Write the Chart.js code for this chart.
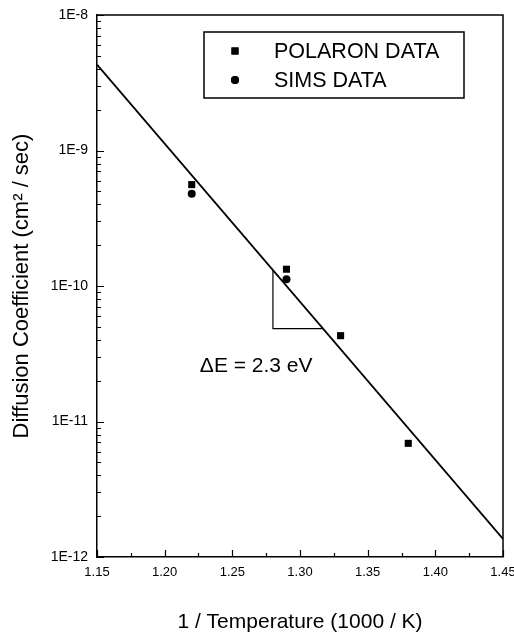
<!DOCTYPE html>
<html><head><meta charset="utf-8">
<script src="https://cdn.jsdelivr.net/npm/chart.js@4/dist/chart.umd.min.js"></script>
<style>html,body{margin:0;padding:0;background:#fff}</style>
</head><body>
<canvas id="c" width="514" height="639" style="display:block;width:514px;height:639px"></canvas>
<script>
// ---- data ----
const seriesNames = ['POLARON DATA', 'SIMS DATA'];
const polaronX = [1.22, 1.29, 1.33, 1.38];
const polaronY = [5.6e-10, 1.33e-10, 4.3e-11, 6.9e-12];
const simsX = [1.22, 1.29];
const simsY = [4.8e-10, 1.12e-10];
const fitX = [1.15, 1.45];
const fitY = [4.3e-9, 1.36e-12];
const slopeX = [1.28, 1.28, 1.317];
const slopeY = [1.31e-10, 4.85e-11, 4.85e-11];
const xTicks = [1.15, 1.20, 1.25, 1.30, 1.35, 1.40, 1.45];
const yTicks = [1e-12, 1e-11, 1e-10, 1e-9, 1e-8];
const annotationText = 'ΔE = 2.3 eV';
const annotationAt = {x: 1.226, y: 2.57e-11};
const xTitle = '1 / Temperature (1000 / K)';
const yTitle = 'Diffusion Coefficient (cm² / sec)';

const FONT = "'Liberation Sans', Arial, Helvetica, sans-serif";
const pts = (xs, ys) => xs.map((x, i) => ({x: x, y: ys[i]}));

const decor = {
  id: 'decor',
  afterDraw(chart) {
    const ctx = chart.ctx, a = chart.chartArea;
    const xs = chart.scales.x, ys = chart.scales.y;
    ctx.save();
    ctx.strokeStyle = '#000';
    // top and right frame
    ctx.lineWidth = 1.5;
    ctx.beginPath();
    ctx.moveTo(a.left, a.top); ctx.lineTo(a.right, a.top); ctx.lineTo(a.right, a.bottom);
    ctx.stroke();
    // inward ticks, y axis
    ctx.lineWidth = 1.2;
    ctx.beginPath();
    for (let e = -12; e <= -8; e++) {
      for (let m = 1; m <= 9; m++) {
        const v = m * Math.pow(10, e);
        if (v > 1.0001e-8) break;
        const py = Math.round(ys.getPixelForValue(v)) + 0.5;
        const len = m === 1 ? 7 : 4;
        ctx.moveTo(a.left, py); ctx.lineTo(a.left + len, py);
      }
    }
    // inward ticks, x axis
    for (let i = 0; i <= 12; i++) {
      const v = 1.15 + i * 0.025;
      const px = Math.round(xs.getPixelForValue(v)) + 0.5;
      const len = i % 2 === 0 ? 7 : 4;
      ctx.moveTo(px, a.bottom); ctx.lineTo(px, a.bottom - len);
    }
    ctx.stroke();
    // legend box
    const lx = a.left + 107, ly = a.top + 17, lw = 260, lh = 66;
    ctx.lineWidth = 1.5;
    ctx.strokeRect(lx, ly, lw, lh);
    ctx.fillStyle = '#000';
    ctx.font = '21.5px ' + FONT;
    ctx.textBaseline = 'middle';
    ctx.textAlign = 'left';
    [0, 1].forEach(i => {
      const ds = chart.data.datasets[i];
      const cy = ly + 19 + i * 29;
      Chart.helpers.drawPoint(ctx, {pointStyle: ds.pointStyle, radius: ds.pointRadius, borderWidth: 0}, lx + 31, cy);
      ctx.fill();
      ctx.fillText(seriesNames[i], lx + 70, cy + 1);
    });
    // annotation
    ctx.font = '21px ' + FONT;
    ctx.fillText(annotationText, xs.getPixelForValue(annotationAt.x), ys.getPixelForValue(annotationAt.y));
    ctx.restore();
  }
};

new Chart(document.getElementById('c'), {
  type: 'scatter',
  data: {
    datasets: [
      {label: seriesNames[0], data: pts(polaronX, polaronY), pointStyle: 'rect', pointRadius: 5,
       backgroundColor: '#000', borderColor: '#000', borderWidth: 0, showLine: false, order: 1},
      {label: seriesNames[1], data: pts(simsX, simsY), pointStyle: 'circle', pointRadius: 4,
       backgroundColor: '#000', borderColor: '#000', borderWidth: 0, showLine: false, order: 0},
      {label: 'fit', data: pts(fitX, fitY), showLine: true, pointRadius: 0, borderColor: '#000',
       borderWidth: 1.8, fill: false, order: 2},
      {label: 'slope', data: pts(slopeX, slopeY), showLine: true, pointRadius: 0, borderColor: '#000',
       borderWidth: 1.2, fill: false, order: 3}
    ]
  },
  options: {
    responsive: false,
    devicePixelRatio: 1,
    animation: false,
    events: [],
    layout: {padding: {left: 0, right: 11, top: 15, bottom: 0}},
    plugins: {legend: {display: false}, tooltip: {enabled: false}},
    scales: {
      x: {
        type: 'linear', min: 1.15, max: 1.45,
        afterBuildTicks: s => { s.ticks = xTicks.map(v => ({value: v})); },
        afterFit: s => { s.height = 82; s.paddingLeft = 0; s.paddingRight = 0; },
        grid: {display: false, drawTicks: false},
        border: {display: true, color: '#000', width: 1.5},
        ticks: {color: '#000', font: {family: FONT, size: 13}, padding: 8,
                callback: v => Number(v).toFixed(2), maxRotation: 0, autoSkip: false},
        title: {display: true, text: xTitle, color: '#000', font: {family: FONT, size: 21},
                padding: {top: 4, bottom: 4}}
      },
      y: {
        type: 'logarithmic', min: 1e-12, max: 1e-8,
        afterBuildTicks: s => { s.ticks = yTicks.map(v => ({value: v})); },
        afterFit: s => { s.width = 97; s.paddingTop = 0; s.paddingBottom = 0; },
        grid: {display: false, drawTicks: false},
        border: {display: true, color: '#000', width: 1.5},
        ticks: {color: '#000', font: {family: FONT, size: 14}, padding: 9, autoSkip: false,
                callback: v => '1E' + Math.round(Math.log10(v))},
        title: {display: true, text: yTitle, color: '#000', font: {family: FONT, size: 22},
                padding: {top: 9, bottom: 0}}
      }
    }
  },
  plugins: [decor]
});
</script>
</body></html>
